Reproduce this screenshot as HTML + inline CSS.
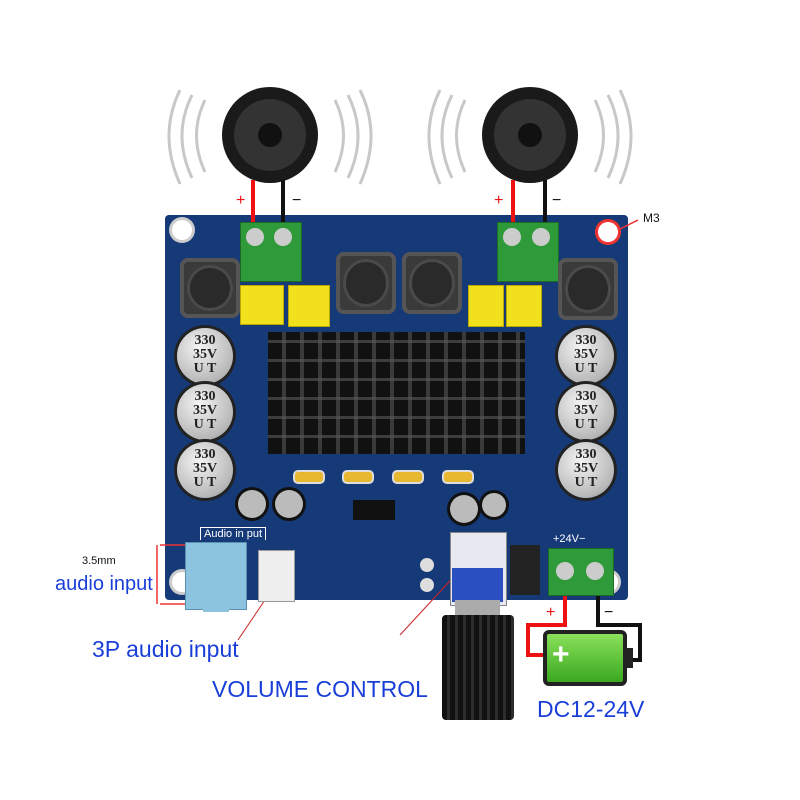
<!DOCTYPE html>
<html><head><meta charset="utf-8"><style>
body{margin:0;width:800px;height:800px;background:#fff;position:relative;overflow:hidden;font-family:"Liberation Sans",sans-serif}
.a{position:absolute}
.ind{position:absolute;background:#3a3a3a;border-radius:8px;box-shadow:inset 0 0 0 4px #555}
.ind::after{content:"";position:absolute;left:12%;top:12%;width:76%;height:76%;border-radius:50%;background:#2a2a2a;box-shadow:inset 0 0 0 3px #4a4a4a}
.yc{position:absolute;background:#f2e01c;border:1px solid #b8a800}
.ec{position:absolute;width:56px;height:56px;border-radius:50%;background:radial-gradient(circle at 40% 35%,#f4f4f4,#b8b8b8 70%,#888);box-shadow:0 0 0 3px #222;font:bold 14px "Liberation Serif",serif;color:#222;text-align:center;line-height:14px;padding-top:6px;box-sizing:border-box}
.tb{position:absolute;background:#2f9a3a;border:1px solid #1d6a25}
.lbl{position:absolute;color:#1a3fd8;font-size:22px;white-space:nowrap}
.smd{position:absolute;width:28px;height:10px;border-radius:5px;background:#e8b830;border:2px solid #ddd}
</style></head><body>
<svg class="a" style="left:0;top:0" width="800" height="800">
<g fill="none" stroke="#c8c8c8" stroke-width="3">
<path d="M205 100 Q188 135 205 172"/><path d="M192 95 Q172 135 192 178"/><path d="M180 90 Q158 135 180 184"/>
<path d="M335 100 Q352 135 335 172"/><path d="M348 95 Q368 135 348 178"/><path d="M360 90 Q382 135 360 184"/>
<path d="M465 100 Q448 135 465 172"/><path d="M452 95 Q432 135 452 178"/><path d="M440 90 Q418 135 440 184"/>
<path d="M595 100 Q612 135 595 172"/><path d="M608 95 Q628 135 608 178"/><path d="M620 90 Q642 135 620 184"/>
</g>
<circle cx="270" cy="135" r="48" fill="#1a1a1a"/><circle cx="270" cy="135" r="36" fill="#333"/><circle cx="270" cy="135" r="12" fill="#111"/>
<circle cx="530" cy="135" r="48" fill="#1a1a1a"/><circle cx="530" cy="135" r="36" fill="#333"/><circle cx="530" cy="135" r="12" fill="#111"/>
</svg>
<!-- board -->
<div class="a" style="left:165px;top:215px;width:463px;height:385px;background:#163a78;border-radius:4px"></div>
<div class="a" style="left:172px;top:220px;width:20px;height:20px;border-radius:50%;background:#fff;box-shadow:0 0 0 3px #ccc"></div>
<div class="a" style="left:598px;top:222px;width:20px;height:20px;border-radius:50%;background:#fff;box-shadow:0 0 0 3px #e33"></div>
<div class="a" style="left:172px;top:572px;width:20px;height:20px;border-radius:50%;background:#fff;box-shadow:0 0 0 3px #ccc"></div>
<div class="a" style="left:598px;top:572px;width:20px;height:20px;border-radius:50%;background:#fff;box-shadow:0 0 0 3px #ccc"></div>
<!-- SMD caps -->
<div class="smd" style="left:293px;top:470px"></div>
<div class="smd" style="left:342px;top:470px"></div>
<div class="smd" style="left:392px;top:470px"></div>
<div class="smd" style="left:442px;top:470px"></div>
<div class="a" style="left:353px;top:500px;width:42px;height:20px;background:#111"></div>
<div class="a" style="left:238px;top:490px;width:28px;height:28px;border-radius:50%;background:#bbb;box-shadow:0 0 0 3px #111"></div>
<div class="a" style="left:275px;top:490px;width:28px;height:28px;border-radius:50%;background:#bbb;box-shadow:0 0 0 3px #111"></div>
<div class="a" style="left:420px;top:558px;width:14px;height:14px;border-radius:50%;background:#ddd"></div>
<div class="a" style="left:420px;top:578px;width:14px;height:14px;border-radius:50%;background:#ddd"></div>
<!-- wires -->
<svg class="a" style="left:0;top:0" width="800" height="800">
<path d="M253 180 V225" stroke="#e11" stroke-width="4"/><path d="M283 180 V225" stroke="#111" stroke-width="4"/>
<path d="M513 180 V225" stroke="#e11" stroke-width="4"/><path d="M545 180 V225" stroke="#111" stroke-width="4"/>
<path d="M565 590 V625 H528 V655 H545" fill="none" stroke="#e11" stroke-width="4"/>
<path d="M598 590 V625 H640 V660 H628" fill="none" stroke="#111" stroke-width="4"/>
<line x1="618" y1="230" x2="638" y2="220" stroke="#e33" stroke-width="1.5"/>
<line x1="460" y1="570" x2="400" y2="635" stroke="#c22" stroke-width="1"/>
<line x1="275" y1="585" x2="238" y2="640" stroke="#c22" stroke-width="1"/>
<circle cx="275" cy="585" r="3" fill="#e11"/>
<path d="M160 545 H185 M160 604 H185 M157 545 V604" stroke="#e33" stroke-width="1.5" fill="none"/>
<text x="236" y="205" fill="#e11" font-size="16" font-family="Liberation Sans">+</text>
<text x="292" y="205" fill="#111" font-size="16" font-family="Liberation Sans">−</text>
<text x="494" y="205" fill="#e11" font-size="16" font-family="Liberation Sans">+</text>
<text x="552" y="205" fill="#111" font-size="16" font-family="Liberation Sans">−</text>
<text x="546" y="617" fill="#e11" font-size="16" font-family="Liberation Sans">+</text>
<text x="604" y="617" fill="#111" font-size="16" font-family="Liberation Sans">−</text>
</svg>
<!-- terminal blocks -->
<div class="tb" style="left:240px;top:222px;width:60px;height:58px"></div>
<div class="a" style="left:246px;top:228px;width:18px;height:18px;border-radius:50%;background:#ccc"></div>
<div class="a" style="left:274px;top:228px;width:18px;height:18px;border-radius:50%;background:#ccc"></div>
<div class="tb" style="left:497px;top:222px;width:60px;height:58px"></div>
<div class="a" style="left:503px;top:228px;width:18px;height:18px;border-radius:50%;background:#ccc"></div>
<div class="a" style="left:532px;top:228px;width:18px;height:18px;border-radius:50%;background:#ccc"></div>
<div class="tb" style="left:548px;top:548px;width:64px;height:46px"></div>
<div class="a" style="left:556px;top:562px;width:18px;height:18px;border-radius:50%;background:#ccc"></div>
<div class="a" style="left:586px;top:562px;width:18px;height:18px;border-radius:50%;background:#ccc"></div>
<div class="a" style="left:553px;top:533px;color:#fff;font-size:11px">+24V−</div>
<!-- inductors -->
<div class="ind" style="left:180px;top:258px;width:60px;height:60px"></div>
<div class="ind" style="left:336px;top:252px;width:60px;height:62px"></div>
<div class="ind" style="left:402px;top:252px;width:60px;height:62px"></div>
<div class="ind" style="left:558px;top:258px;width:60px;height:62px"></div>
<!-- yellow caps -->
<div class="yc" style="left:240px;top:285px;width:42px;height:38px"></div>
<div class="yc" style="left:288px;top:285px;width:40px;height:40px"></div>
<div class="yc" style="left:468px;top:285px;width:34px;height:40px"></div>
<div class="yc" style="left:506px;top:285px;width:34px;height:40px"></div>
<!-- heatsink -->
<div class="a" style="left:268px;top:332px;width:257px;height:122px;background:repeating-linear-gradient(90deg,#111 0 14px,#3a3a3a 14px 18px),#111"></div>
<div class="a" style="left:268px;top:332px;width:257px;height:122px;background:repeating-linear-gradient(0deg,transparent 0 16px,rgba(90,90,90,.6) 16px 19px)"></div>
<!-- electrolytics -->
<div class="ec" style="left:177px;top:328px">330<br>35V<br>U T</div>
<div class="ec" style="left:177px;top:384px">330<br>35V<br>U T</div>
<div class="ec" style="left:177px;top:442px">330<br>35V<br>U T</div>
<div class="ec" style="left:558px;top:328px">330<br>35V<br>U T</div>
<div class="ec" style="left:558px;top:384px">330<br>35V<br>U T</div>
<div class="ec" style="left:558px;top:442px">330<br>35V<br>U T</div>
<div class="a" style="left:450px;top:495px;width:28px;height:28px;border-radius:50%;background:#bbb;box-shadow:0 0 0 3px #111"></div>
<div class="a" style="left:482px;top:493px;width:24px;height:24px;border-radius:50%;background:#bbb;box-shadow:0 0 0 3px #111"></div>
<div class="a" style="left:510px;top:545px;width:30px;height:50px;background:#222"></div>
<div class="a" style="left:200px;top:527px;color:#fff;font-size:11px;border:1px solid #fff;border-bottom:none;padding:0 3px">Audio in put</div>
<!-- jack & 3P -->
<div class="a" style="left:185px;top:542px;width:60px;height:66px;background:#8cc4e0;border:1px solid #5a90b0"></div>
<div class="a" style="left:203px;top:598px;width:26px;height:14px;background:#8cc4e0"></div>
<div class="a" style="left:258px;top:550px;width:35px;height:50px;background:#eee;border:1px solid #999"></div>
<!-- pot -->
<div class="a" style="left:450px;top:532px;width:55px;height:72px;background:#e8e8f0;border:1px solid #888"></div>
<div class="a" style="left:452px;top:568px;width:51px;height:34px;background:#2a4fc0"></div>
<div class="a" style="left:455px;top:600px;width:45px;height:18px;background:#aaa"></div>
<div class="a" style="left:442px;top:615px;width:72px;height:105px;background:repeating-linear-gradient(90deg,#111 0 5px,#2c2c2c 5px 8px);border-radius:4px"></div>
<!-- battery -->
<div class="a" style="left:543px;top:630px;width:84px;height:56px;background:linear-gradient(#8ae05a,#3aa820);border:4px solid #222;border-radius:6px;box-sizing:border-box"></div>
<div class="a" style="left:626px;top:648px;width:7px;height:20px;background:#222"></div>
<div class="a" style="left:552px;top:640px;color:#fff;font:bold 30px 'Liberation Sans';line-height:30px">+</div>
<!-- labels -->
<div class="a" style="left:82px;top:555px;font-size:11px;color:#111">3.5mm</div>
<div class="lbl" style="left:55px;top:573px;font-size:20px">audio input</div>
<div class="lbl" style="left:92px;top:636px;font-size:23px">3P audio input</div>
<div class="lbl" style="left:212px;top:676px;font-size:23px">VOLUME CONTROL</div>
<div class="lbl" style="left:537px;top:696px;font-size:23px">DC12-24V</div>
<div class="a" style="left:643px;top:211px;font-size:12px;color:#111">M3</div>
</body></html>
